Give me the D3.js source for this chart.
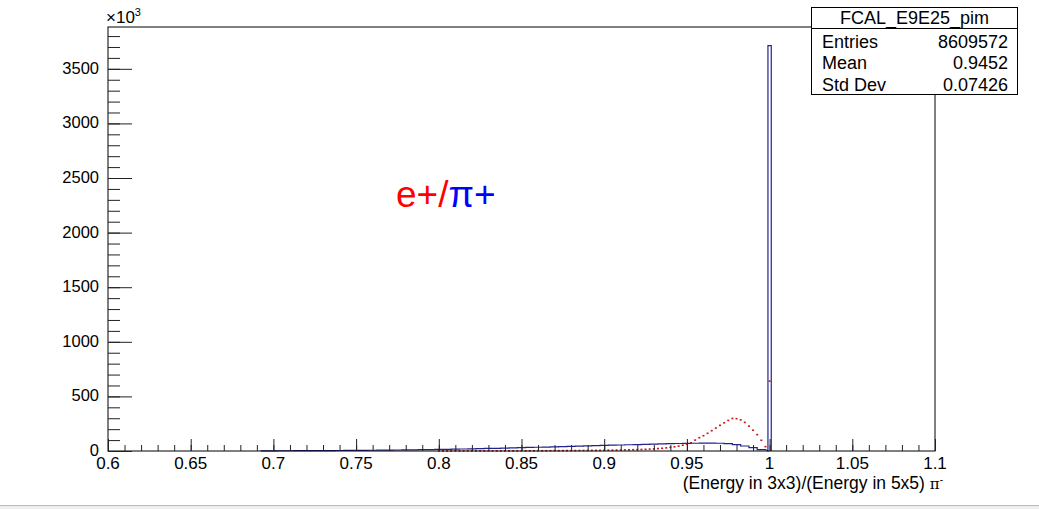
<!DOCTYPE html>
<html>
<head>
<meta charset="utf-8">
<script src="https://cdn.jsdelivr.net/npm/d3@7"></script>
<style>
  body { margin: 0; background: #fff; }
  text { font-family: "Liberation Sans", Arial, sans-serif; }
</style>
</head>
<body>
<script>
//------------------------------------------- Data ---------------------------------------------//
// counts in units of 10^3
var xTickValues = [0.6, 0.65, 0.7, 0.75, 0.8, 0.85, 0.9, 0.95, 1, 1.05, 1.1];
var yTickValues = [0, 500, 1000, 1500, 2000, 2500, 3000, 3500];

// pi- histogram (blue), bins of 0.005 starting at 0.6925
var blueStart = 0.6925, blueWidth = 0.005;
var blueCounts = [
  1.5, 2.0, 2.2, 2.5, 2.8, 3.1, 3.4, 3.8, 4.2, 4.6,
  5.1, 5.6, 6.2, 6.9, 7.6, 8.4, 9.2, 10.1, 11.1, 12.2,
  13.3, 14.5, 15.8, 17.1, 18.5, 20.0, 21.6, 23.2, 24.9, 26.7,
  28.5, 30.4, 32.3, 34.3, 36.3, 38.3, 40.4, 42.5, 44.6, 46.7,
  48.8, 50.9, 53.0, 55.1, 57.2, 59.3, 61.3, 63.3, 65.2, 67.0,
  68.6, 70.0, 71.1, 71.8, 71.9, 71.0, 67.5, 59.0, 46.0, 31.0,
  13.0
];
var spikeLow = 0.999, spikeHigh = 1.001, spikeCount = 3712;

// e+ histogram (red markers), bin centres every 0.0025 from 0.8
var redStart = 0.8, redStep = 0.0025;
var redCounts = [
  0.5, 0.5, 0.6, 0.6, 0.7, 0.7, 0.8, 0.8, 0.9, 0.9,
  1.0, 1.0, 1.1, 1.2, 1.2, 1.3, 1.4, 1.5, 1.6, 1.7,
  1.8, 1.9, 2.0, 2.1, 2.2, 2.4, 2.5, 2.7, 2.9, 3.1,
  3.3, 3.5, 3.7, 4.0, 4.3, 4.6, 4.9, 5.3, 5.7, 6.1,
  6.6, 7.1, 7.7, 8.3, 9.0, 9.8, 10.7, 11.7, 12.8, 14.1,
  15.6, 17.4, 19.5, 22.0, 25.0, 28.6, 33.0, 38.5, 45.0, 53.0,
  63.0, 75.0, 100, 122, 140, 162, 186, 210, 235, 258,
  280, 298, 296, 285, 262, 228, 190, 150, 98, 40,
  640
];

var statsTitle = "FCAL_E9E25_pim";
var statsRows = [["Entries", "8609572"], ["Mean", "0.9452"], ["Std Dev", "0.07426"]];

//------------------------------------------- Layout ---------------------------------------------//
var width = 1039, height = 509;
var frame = { left: 108, right: 935, top: 27, bottom: 451 };

var svg = d3.select("body").append("svg")
  .attr("width", width)
  .attr("height", height);

var x = d3.scaleLinear().domain([0.6, 1.1]).range([frame.left, frame.right]);
var y = d3.scaleLinear().domain([0, 3883]).range([frame.bottom, frame.top]);

// bottom strip (cut-off canvas edge)
svg.append("rect").attr("x", 0).attr("y", 505).attr("width", width).attr("height", 4).attr("fill", "#eeeeee");
svg.append("line").attr("x1", 0).attr("x2", width).attr("y1", 505.5).attr("y2", 505.5).attr("stroke", "#bbbbbb");

//------------------------------------------- Histograms ---------------------------------------------//
var blueLine = [[blueStart, 0]];
blueCounts.forEach(function (c, i) {
  blueLine.push([blueStart + i * blueWidth, c]);
  blueLine.push([blueStart + (i + 1) * blueWidth, c]);
});
blueLine.push([spikeLow, 0.5]);
blueLine.push([spikeLow, spikeCount]);
blueLine.push([spikeHigh, spikeCount]);
blueLine.push([spikeHigh, 0]);

svg.append("path")
  .attr("d", d3.line().x(function (d) { return x(d[0]); }).y(function (d) { return y(d[1]); })(blueLine))
  .attr("fill", "none")
  .attr("stroke", "#23238f")
  .attr("stroke-width", 1.2);

svg.append("g")
  .selectAll("rect")
  .data(redCounts)
  .enter()
  .append("rect")
  .attr("x", function (d, i) { return x(redStart + i * redStep) - 1; })
  .attr("y", function (d) { return y(d) - 0.8; })
  .attr("width", 2)
  .attr("height", 1.6)
  .attr("fill", "#c41414");

//------------------------------------------- Axes ---------------------------------------------//
svg.append("rect")
  .attr("x", frame.left).attr("y", frame.top)
  .attr("width", frame.right - frame.left).attr("height", frame.bottom - frame.top)
  .attr("fill", "none").attr("stroke", "#000").attr("stroke-width", 1);

function tickGroup(axis, transform) {
  var g = svg.append("g").attr("transform", transform).call(axis);
  g.selectAll(".domain").remove();
  g.selectAll("line").attr("stroke", "#222");
  return g;
}

var xMinor = d3.range(0, 51).map(function (i) { return 0.6 + i * 0.01; });
tickGroup(d3.axisTop(x).tickValues(xMinor).tickSize(6).tickFormat(""), "translate(0," + frame.bottom + ")");
tickGroup(d3.axisTop(x).tickValues(xTickValues).tickSize(12).tickFormat(""), "translate(0," + frame.bottom + ")");

svg.append("g").selectAll("text")
  .data(xTickValues)
  .enter()
  .append("text")
  .attr("x", function (d) { return x(d); })
  .attr("y", 468.5)
  .attr("text-anchor", "middle")
  .attr("font-size", "17px")
  .text(function (d) { return String(+d.toFixed(2)); });

var yMinor = d3.range(0, 39).map(function (i) { return i * 100; });
tickGroup(d3.axisRight(y).tickValues(yMinor).tickSize(12).tickFormat(""), "translate(" + frame.left + ",0)");
tickGroup(d3.axisRight(y).tickValues(yTickValues).tickSize(24).tickFormat(""), "translate(" + frame.left + ",0)");

svg.append("g").selectAll("text")
  .data(yTickValues)
  .enter()
  .append("text")
  .attr("x", 99)
  .attr("y", function (d) { return y(d) + 5; })
  .attr("text-anchor", "end")
  .attr("font-size", "16.5px")
  .text(function (d) { return d; });

var expo = svg.append("text").attr("x", 106).attr("y", 23).attr("font-size", "17px");
expo.append("tspan").text("\u00d710");
expo.append("tspan").attr("dy", -7).attr("font-size", "11px").text("3");

var xTitle = svg.append("text")
  .attr("x", 943).attr("y", 489)
  .attr("text-anchor", "end")
  .attr("font-size", "17.5px");
xTitle.append("tspan").text("(Energy in 3x3)/(Energy in 5x5) ");
xTitle.append("tspan").attr("font-family", "DejaVu Serif, serif").attr("font-size", "15px").text("\u03c0");
xTitle.append("tspan").attr("dy", -6).attr("font-size", "10px").text("-");

//------------------------------------------- Annotation ---------------------------------------------//
var label = svg.append("text").attr("x", 396).attr("y", 207).attr("font-size", "37px");
label.append("tspan").attr("fill", "#ff0000").text("e+/");
label.append("tspan").attr("fill", "#0000ff").text("\u03c0+");

//------------------------------------------- Stats box ---------------------------------------------//
var box = svg.append("g");
box.append("rect")
  .attr("x", 811.5).attr("y", 7.5).attr("width", 206).attr("height", 87)
  .attr("fill", "#fff").attr("stroke", "#000");
box.append("line")
  .attr("x1", 811.5).attr("x2", 1017.5).attr("y1", 28.5).attr("y2", 28.5)
  .attr("stroke", "#000");
box.append("text")
  .attr("x", 914.5).attr("y", 24)
  .attr("text-anchor", "middle")
  .attr("font-size", "18px")
  .text(statsTitle);
statsRows.forEach(function (r, i) {
  box.append("text").attr("x", 822).attr("y", 47.5 + i * 21.5).attr("font-size", "18px").text(r[0]);
  box.append("text").attr("x", 1008).attr("y", 47.5 + i * 21.5).attr("text-anchor", "end").attr("font-size", "18px").text(r[1]);
});
</script>
</body>
</html>
